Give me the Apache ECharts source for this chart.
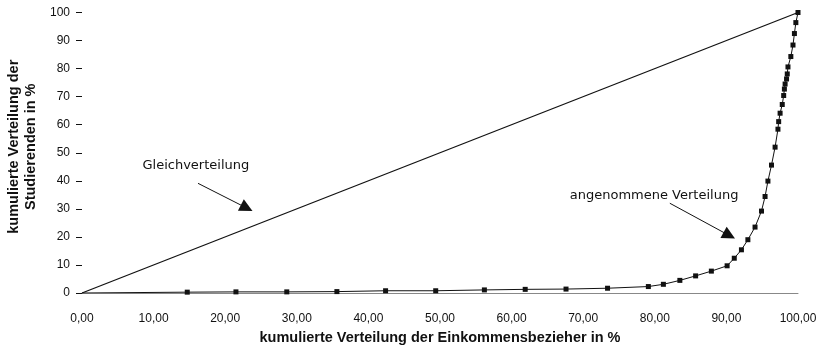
<!DOCTYPE html>
<html>
<head>
<meta charset="utf-8">
<script src="https://cdn.jsdelivr.net/npm/echarts@6/dist/echarts.min.js"></script>
<style>
  html, body { margin: 0; padding: 0; background: #fff; }
  #main { width: 821px; height: 346px; }
</style>
</head>
<body>
<div id="main"></div>
<script>
// kumulierte Verteilung der Einkommensbezieher (x) / der Studierenden (y), in %
var einkommen = [0, 14.7, 21.5, 28.6, 35.6, 42.4, 49.4, 56.2, 61.9, 67.6, 73.4, 79.1, 81.2, 83.5, 85.7,
  87.9, 90.1, 91.1, 92.1, 93.0, 94.0, 94.9, 95.4, 95.8, 96.3, 96.8, 97.2, 97.3, 97.5, 97.8,
  98.0, 98.1, 98.2, 98.4, 98.5, 98.6, 99.0, 99.3, 99.5, 99.7, 100];
var studierende = [0, 0.3, 0.4, 0.4, 0.5, 0.8, 0.8, 1.1, 1.3, 1.4, 1.7, 2.3, 3.1, 4.5, 6.1,
  7.8, 9.7, 12.4, 15.4, 19.0, 23.5, 29.2, 34.4, 39.9, 45.6, 52.0, 58.4, 61.1, 64.1, 67.2,
  70.4, 72.7, 74.5, 76.3, 78.1, 80.6, 84.3, 88.4, 92.5, 96.4, 100];
var gleich = [[0, 0], [100, 100]];
var xTicks = [0, 10, 20, 30, 40, 50, 60, 70, 80, 90, 100];
var yTicks = [0, 10, 20, 30, 40, 50, 60, 70, 80, 90, 100];

var font = 'Liberation Sans';
var noteFont = 'DejaVu Sans';

var curve = [];
for (var i = 0; i < einkommen.length; i++) {
  var p = { value: [einkommen[i], studierende[i]] };
  if (i === 0) p.symbol = 'none';
  curve.push(p);
}

var chart = echarts.init(document.getElementById('main'));
chart.setOption({
  animation: false,
  grid: { left: 82, right: 23, top: 12.5, bottom: 53, containLabel: false, outerBoundsMode: 'none' },
  xAxis: {
    type: 'value', min: xTicks[0], max: xTicks[xTicks.length - 1], interval: 10,
    name: 'kumulierte Verteilung der Einkommensbezieher in %',
    nameLocation: 'middle', nameGap: 37,
    nameTextStyle: { fontFamily: font, fontWeight: 'bold', fontSize: 14.5, color: '#111' },
    axisLine: { show: true, lineStyle: { color: '#888', width: 1 } },
    axisTick: { show: false },
    splitLine: { show: false },
    axisLabel: {
      margin: 20, fontFamily: font, fontSize: 12, color: '#111',
      formatter: function (v) { return v.toFixed(2).replace('.', ','); }
    }
  },
  yAxis: {
    type: 'value', min: yTicks[0], max: yTicks[yTicks.length - 1], interval: 10,
    name: 'kumulierte Verteilung der\nStudierenden in %',
    nameLocation: 'middle', nameGap: 35,
    nameTextStyle: { fontFamily: font, fontWeight: 'bold', fontSize: 14.5, color: '#111', lineHeight: 17, padding: [0, 0, 0, 12] },
    axisLine: { show: false },
    axisTick: { show: true, length: 6, lineStyle: { color: '#111', width: 1 } },
    splitLine: { show: false },
    axisLabel: { margin: 12, fontFamily: font, fontSize: 12, color: '#111' }
  },
  series: [
    {
      name: 'Gleichverteilung', type: 'line', data: gleich,
      symbol: 'none', lineStyle: { color: '#111', width: 1.3 },
      markLine: {
        silent: true, symbol: ['none', 'triangle'], symbolSize: 13,
        label: { show: false },
        lineStyle: { color: '#111', width: 1, type: 'solid' },
        data: [
          [{ coord: [16.2, 39.1] }, { coord: [23.0, 30.3] }],
          [{ coord: [82.1, 32.0] }, { coord: [90.4, 20.5] }]
        ]
      },
      markPoint: {
        silent: true, symbol: 'circle', symbolSize: 1,
        itemStyle: { color: 'rgba(0,0,0,0)' },
        label: { show: true, position: 'inside', fontFamily: noteFont, fontSize: 13, color: '#111' },
        data: [
          { coord: [15.9, 45.3], value: 'Gleichverteilung', label: { formatter: 'Gleichverteilung' } },
          { coord: [79.9, 34.6], value: 'angenommene Verteilung', label: { formatter: 'angenommene Verteilung' } }
        ]
      }
    },
    {
      name: 'angenommene Verteilung', type: 'line', data: curve,
      symbol: 'rect', symbolSize: 5,
      itemStyle: { color: '#111' },
      lineStyle: { color: '#111', width: 1 }
    }
  ]
});
</script>
</body>
</html>
